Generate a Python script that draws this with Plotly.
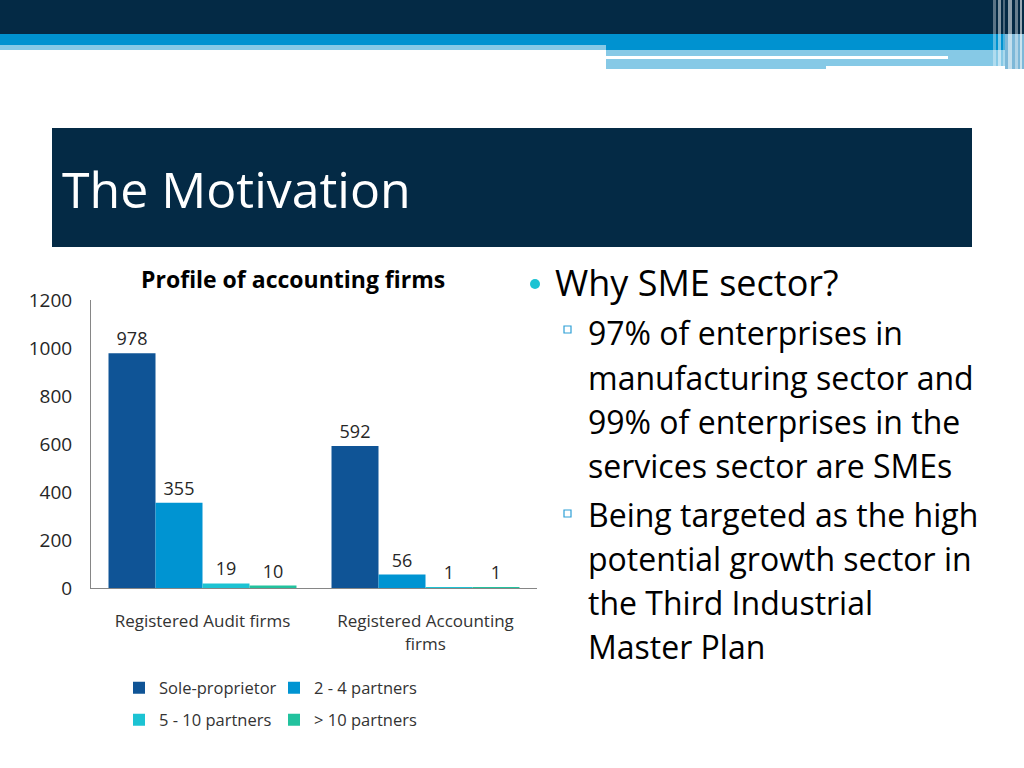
import plotly.graph_objects as go

# chart data
categories = ["Registered Audit firms", "Registered Accounting<br>firms"]
series_names = ["Sole-proprietor", "2 - 4 partners", "5 - 10 partners", "> 10 partners"]
sole_prop = [978, 592]
partners_2_4 = [355, 56]
partners_5_10 = [19, 1]
partners_10_plus = [10, 1]
y_ticks = [0, 200, 400, 600, 800, 1000, 1200]

# slide text
slide_title = "The Motivation"
chart_title = "Profile of accounting firms"
bullet_main = "Why SME sector?"
sub_bullets = [
    ["97% of enterprises in", "manufacturing sector and", "99% of enterprises in the", "services sector are SMEs"],
    ["Being targeted as the high", "potential growth sector in", "the Third Industrial", "Master Plan"],
]

colors = ["#0F5496", "#0094D2", "#1CC3D3", "#22C29E"]
W, H = 1024, 768
FONT = "Open Sans"


def px(x):
    return x / W


def py(y):
    return 1 - y / H


fig = go.Figure()

values = [sole_prop, partners_2_4, partners_5_10, partners_10_plus]
for i, (name, vals) in enumerate(zip(series_names, values)):
    fig.add_trace(go.Bar(
        x=categories, y=vals, name=name,
        marker=dict(color=colors[i], line=dict(width=0)),
        text=vals, textposition="outside", cliponaxis=False,
        textfont=dict(size=18, color="#262626", family=FONT),
        legend="legend" if i < 2 else "legend2",
    ))

fig.update_layout(
    width=W, height=H,
    margin=dict(l=0, r=0, t=0, b=0, autoexpand=False),
    paper_bgcolor="white", plot_bgcolor="white",
    barmode="group", bargap=0.157, bargroupgap=0,
    font=dict(family=FONT, color="#262626"),
    xaxis=dict(domain=[px(91), px(537)], showline=True, linecolor="#868686", linewidth=1,
               showgrid=False, ticks="", tickfont=dict(size=17, color="#333333"),
               ticklabelstandoff=18),
    yaxis=dict(domain=[py(588), py(300)], range=[0, 1200], tickvals=y_ticks,
               showline=True, linecolor="#868686", linewidth=1, showgrid=False,
               zeroline=False, ticks="", tickfont=dict(size=19, color="#262626"),
               ticklabelstandoff=14),
    legend=dict(orientation="h", x=px(119), y=py(688), yanchor="middle", xanchor="left",
                entrywidth=110, font=dict(size=16.5, color="#333333"), traceorder="normal"),
    legend2=dict(orientation="h", x=px(119), y=py(720), yanchor="middle", xanchor="left",
                 entrywidth=110, font=dict(size=16.5, color="#333333"), traceorder="normal"),
    showlegend=True,
)

# header decoration and title box
shapes = [
    dict(x0=0, x1=1, y0=py(34), y1=1, fillcolor="#042A45"),
    dict(x0=0, x1=px(606), y0=py(45), y1=py(34), fillcolor="#0092D0"),
    dict(x0=0, x1=px(606), y0=py(50), y1=py(45), fillcolor="#86C9E6"),
    dict(x0=px(606), x1=px(1005), y0=py(50), y1=py(34), fillcolor="#0092D0"),
    dict(x0=px(606), x1=px(1005), y0=py(66), y1=py(50), fillcolor="#86C9E6"),
    dict(x0=px(606), x1=px(826), y0=py(69), y1=py(66), fillcolor="#86C9E6"),
    dict(x0=px(606), x1=px(948), y0=py(59), y1=py(56), fillcolor="white"),
    dict(x0=px(52), x1=px(972), y0=py(247), y1=py(128), fillcolor="#042A45"),
    dict(x0=px(1005), x1=1, y0=py(69), y1=py(34), fillcolor="#7DB8D8"),
]
# faded vertical stripes at the right edge
for x0, x1, op in [(993, 996, 0.35), (998, 1001, 0.5), (1003, 1005, 0.3),
                   (1008, 1012, 0.55), (1015, 1018, 0.4), (1020, 1022, 0.6)]:
    shapes.append(dict(x0=px(x0), x1=px(x1), y0=py(69), y1=1, fillcolor="white", opacity=op))
# sub bullet squares
for yy in [330, 514]:
    shapes.append(dict(x0=px(564), x1=px(571), y0=py(yy + 3), y1=py(yy - 4), fillcolor="white",
                       line=dict(color="#2E9FD6", width=1.2)))
for s in shapes:
    s.setdefault("line", dict(width=0))
    fig.add_shape(type="rect", xref="paper", yref="paper", layer="below", **s)

# main bullet dot
fig.add_shape(type="circle", xref="paper", yref="paper", x0=px(530), x1=px(540),
              y0=py(289), y1=py(279), fillcolor="#1CC3D3", line=dict(width=0))

ann = [
    dict(text=slide_title, x=px(60), y=py(189), xanchor="left", yanchor="middle",
         font=dict(size=50, color="white", family=FONT)),
    dict(text="<b>" + chart_title + "</b>", x=px(293), y=py(279), xanchor="center", yanchor="middle",
         font=dict(size=23, color="#000000", family=FONT)),
    dict(text=bullet_main, x=px(553), y=py(283), xanchor="left", yanchor="middle",
         font=dict(size=36, color="#000000", family=FONT)),
]
line_y = [332, 377, 421, 465, 514, 558, 602, 646]
lines = sub_bullets[0] + sub_bullets[1]
for t, yy in zip(lines, line_y):
    ann.append(dict(text=t, x=px(586), y=py(yy), xanchor="left", yanchor="middle",
                    font=dict(size=32, color="#000000", family=FONT)))
for a in ann:
    fig.add_annotation(xref="paper", yref="paper", showarrow=False, **a)

fig.write_html("out.html", config={"displayModeBar": False},
               post_script="document.body.style.margin='0';document.body.style.overflow='hidden';")
